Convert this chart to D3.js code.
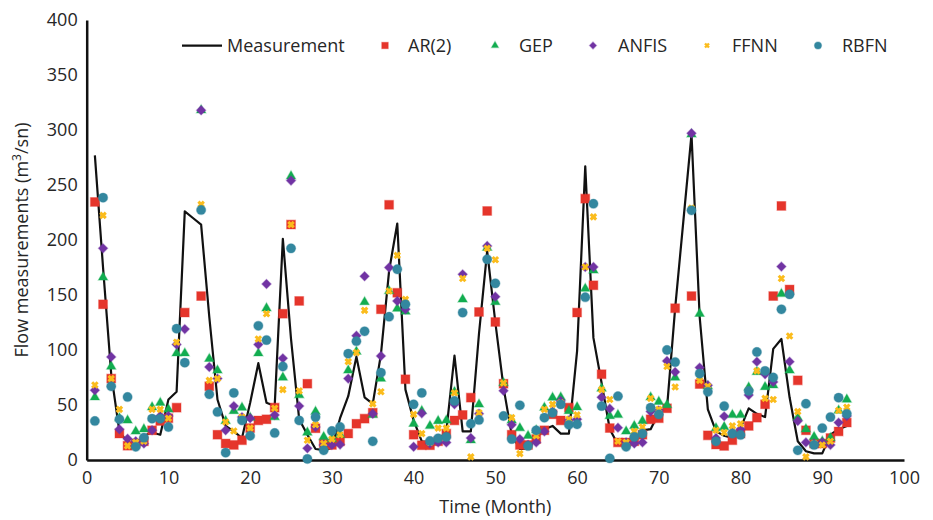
<!DOCTYPE html>
<html>
<head>
<meta charset="utf-8">
<script src="https://cdn.jsdelivr.net/npm/d3@7"></script>
<style>
body { margin: 0; background: #fff; }
svg text { font-family: "Open Sans", "Noto Sans", sans-serif; fill: #262626; }
</style>
</head>
<body>
<svg id="chart" width="933" height="520"></svg>
<script>
var months = d3.range(1, 94);

var measurement = [277, 175, 78, 26, 16, 14, 22, 25, 23, 55,
	62, 226, 220, 214, 130, 55, 31, 26, 20, 52,
	88, 52, 49, 201, 110, 37, 23, 10, 9, 11,
	38, 58, 94, 57, 51, 96, 172, 215, 64, 36,
	17, 16, 18, 26, 95, 26, 26, 115, 190, 125,
	66, 23, 10, 10, 20, 28, 31, 24, 24, 99,
	267, 111, 70, 28, 14, 14, 19, 27, 28, 43,
	47, 138, 217, 296, 130, 46, 26, 22, 20, 29,
	47, 42, 39, 101, 110, 57, 17, 8, 6, 6,
	23, 28, 31];

var ar2 = [234.6, 141.5, 74, 24, 13, 15, 17, 27, 35.5, 38,
	47.6, 134, null, 149, 67, 23, 15, 13.7, 18, 29,
	36, 37, 47.6, 133, 214, 144.6, 69.4, 28.8, 15, 13.7,
	17, 24, 33, 37.6, 43, 137, 232, 152, 73.4, 23,
	13.4, 13.4, 17, 24, 36, 41, 56.7, 134.6, 226.4, 125.5,
	69.4, 23, 13.7, 13.7, 19, 27, 41.5, 36, 47.6, 134,
	237.6, 158.8, 78, 29, 16, 16, 17, 23, 37, 38,
	47, 138, null, 149, 69, 22.4, 14, 12.8, 18, 24,
	31, 38.5, 50.6, 149, 231, 155, 72.4, 27, 15, 15,
	20, 26, 34];

var gep = [57, 166, 85, 38, 36, 26, 28, 48, 52, 46,
	97, 97, null, 318, 92, 81.5, 35.5, 44.6, 47.6, 38.5,
	97, 138, 39, 75, 258, 59, 25, 44, 21, 19,
	23, 81.5, 98.5, 143.6, 41, 74, 153.6, 137.6, 135, 33,
	44.6, 31, 35.5, 36, 62, 146, 18, 50.6, 193, 143.6,
	70, 36, 29, 22, 27, 47.6, 56.7, 57, 44.6, 48,
	155.8, 172.4, 65, 40, 41, 26, 31, 35.5, 57, 53,
	50, 75, null, 296, 133, 67, 29, 30, 41, 41,
	66, 80, 66.4, 68, 151, 81.5, 38.5, 28, 21, 17,
	20, 45, 55];

var anfis = [63.4, 192.4, 93.7, 28, 19.4, 17, 15, 27, 40, 40,
	105, 119, null, 318, 84.6, 74, 27, 49, 39, 38,
	105, 160, 41, 92.4, 254, 49, 10.6, 30, 13.7, 13.7,
	14, 74, 113, 167, 42, 94.6, 175, 144.6, 137, 12,
	42.4, 15, 16, 16, 50.6, 168.8, 20, 42, 194.6, 148.5,
	63, 32, 19, 13.7, 16, 26, 44, 53.7, 36, 37,
	175.5, 175.5, 57, 46.7, 29.4, 16, 15, 16, 44, 45,
	90, 80, null, 297, 84, 68, 20, 39.7, 25, 28,
	59, 89.4, 78, 71, 175.8, 89.4, 35.5, 16, 15, 16,
	13.7, 34, 40];

var ffnn = [68.2, 222.4, 74, 46, 12.8, 16, 17, 46, 46, 38,
	107, 88, null, 232.4, 72.4, 74, 34.6, 26.4, 39, 29,
	110, 133, 47, 64, 214, 62.8, 18, 32, 15, 19,
	23, 89.4, 97.6, 136, 51, 62, 153.6, 186, 146, 41.5,
	24, 16, 29, 29, 61, 165, 2.8, 43, 192.4, 182,
	70, 38.5, 5.8, 12, 22, 46, 50.6, 52, 37, 41,
	175.5, 221, 64, 55, 17, 16, 26, 30, 56, 46,
	85, 66.4, null, 229, 72.4, 67, 27, 25, 31, 33,
	63.4, 81, 56, 55, 165, 112.7, 44, 2.8, 15, 13.7,
	17, 45, 48];

var rbfn = [35.5, 238.5, 67, 37, 57.3, 12, 20.3, 37.6, 37.6, 30,
	119.4, 88.5, null, 227.3, 59.7, 43.7, 6.7, 61, 36, 22,
	122, 109, 24.6, 85, 192.4, 36, 1, 39, 8.8, 26.4,
	30, 96.7, 108, 117, 17, 79.4, 130.3, 173.4, 141.5, 50.6,
	61, 17.3, 19.7, 21, 53.7, 134, 33, 36.4, 182.4, 160.6,
	40, 19, 49.7, 12.8, 27, 38.5, 43, 50.6, 32, 32.5,
	148, 233, 49, 1.5, 58, 12, 21, 24, 47.6, 41.5,
	100, 89, null, 227, 78.5, 62, 17, 49, 24, 22.8,
	62.8, 98.2, 81, 75, 137, 150.6, 8.8, 51.2, 13.7, 29,
	39, 56.7, 42];

var xTicks = [0, 10, 20, 30, 40, 50, 60, 70, 80, 90, 100];
var yTicks = [0, 50, 100, 150, 200, 250, 300, 350, 400];

var seriesNames = ["AR(2)", "GEP", "ANFIS", "FFNN", "RBFN"];
var seriesValues = [ar2, gep, anfis, ffnn, rbfn];
var seriesColors = ["#e5352b", "#12ad50", "#7133a3", "#fbbc1c", "#33879f"];

var svg = d3.select("#chart");
var plotLeft = 86.7, plotRight = 904, plotTop = 20, plotBottom = 460;

var x = d3.scaleLinear().domain([0, 100]).range([plotLeft, plotRight]);
var y = d3.scaleLinear().domain([0, 400]).range([plotBottom, plotTop]);

// marker shapes, Excel style
var xMark = { draw: function(ctx, size) {
	var r = Math.sqrt(size) / 2;
	ctx.moveTo(-r, -r); ctx.lineTo(r, r);
	ctx.moveTo(r, -r); ctx.lineTo(-r, r);
} };
var shapes = [d3.symbolSquare, d3.symbolTriangle, d3.symbolDiamond2, xMark, d3.symbolCircle];
var sizes = [78, 38, 56, 30, 68];
var legendSizes = [42, 22, 32, 16, 40];

function markerPath(i, big) {
	return d3.symbol().type(shapes[i]).size(big ? sizes[i] : legendSizes[i])();
}

function styleMarker(sel, i) {
	if (i === 3) {
		sel.attr("fill", "none")
			.attr("stroke", seriesColors[i])
			.attr("stroke-width", 3);
	} else {
		sel.attr("fill", seriesColors[i])
			.attr("stroke", seriesColors[i])
			.attr("stroke-opacity", 0.35)
			.attr("stroke-width", 1.2);
	}
}

// axes
var xAxis = svg.append("g")
	.attr("transform", "translate(0," + plotBottom + ")")
	.call(d3.axisBottom(x).tickValues(xTicks).tickSize(0).tickPadding(11));
var yAxis = svg.append("g")
	.attr("transform", "translate(" + plotLeft + ",0)")
	.call(d3.axisLeft(y).tickValues(yTicks).tickSize(0).tickPadding(9));

[xAxis, yAxis].forEach(function(a) {
	a.select(".domain").attr("stroke", "#111").attr("stroke-width", 2.5);
	a.selectAll("text")
		.style("font-family", "'Open Sans', sans-serif")
		.style("font-size", "18px")
		.attr("fill", "#262626");
});

// measurement line
var line = d3.line()
	.x(function(d, i) { return x(months[i]); })
	.y(function(d) { return y(d); });

svg.append("path")
	.datum(measurement)
	.attr("fill", "none")
	.attr("stroke", "#111")
	.attr("stroke-width", 2.2)
	.attr("stroke-linejoin", "round")
	.attr("d", line);

// predicted series
seriesValues.forEach(function(vals, i) {
	var pts = vals.map(function(v, k) { return { m: months[k], v: v }; })
		.filter(function(d) { return d.v !== null; });
	var g = svg.append("g").attr("class", "series");
	var marks = g.selectAll("path")
		.data(pts)
		.enter().append("path")
			.attr("transform", function(d) { return "translate(" + x(d.m) + "," + y(d.v) + ")"; })
			.attr("d", markerPath(i, true));
	styleMarker(marks, i);
});

// legend
var legend = svg.append("g");
legend.append("line")
	.attr("x1", 182).attr("x2", 222)
	.attr("y1", 45.7).attr("y2", 45.7)
	.attr("stroke", "#111").attr("stroke-width", 2.2);
legend.append("text")
	.attr("x", 227).attr("y", 52)
	.style("font-size", "18px")
	.text("Measurement");

var legendMarkX = [385, 495, 593, 707, 818];
var legendTextX = [408, 519, 618, 732, 842];
seriesNames.forEach(function(name, i) {
	var m = legend.append("path")
		.attr("transform", "translate(" + legendMarkX[i] + ",45.5)")
		.attr("d", markerPath(i, false));
	styleMarker(m, i);
	if (i === 3) m.attr("stroke-width", 2.4);
	legend.append("text")
		.attr("x", legendTextX[i]).attr("y", 52)
		.style("font-size", "18px")
		.text(name);
});

// axis titles
svg.append("text")
	.attr("x", (plotLeft + plotRight) / 2)
	.attr("y", 513)
	.attr("text-anchor", "middle")
	.style("font-size", "18px")
	.text("Time (Month)");

var yTitle = svg.append("text")
	.attr("transform", "translate(28," + ((plotTop + plotBottom) / 2) + ") rotate(-90)")
	.attr("text-anchor", "middle")
	.style("font-size", "18px");
yTitle.append("tspan").text("Flow measurements (m");
yTitle.append("tspan").attr("dy", -7).style("font-size", "12px").text("3");
yTitle.append("tspan").attr("dy", 7).text("/sn)");
</script>
</body>
</html>
